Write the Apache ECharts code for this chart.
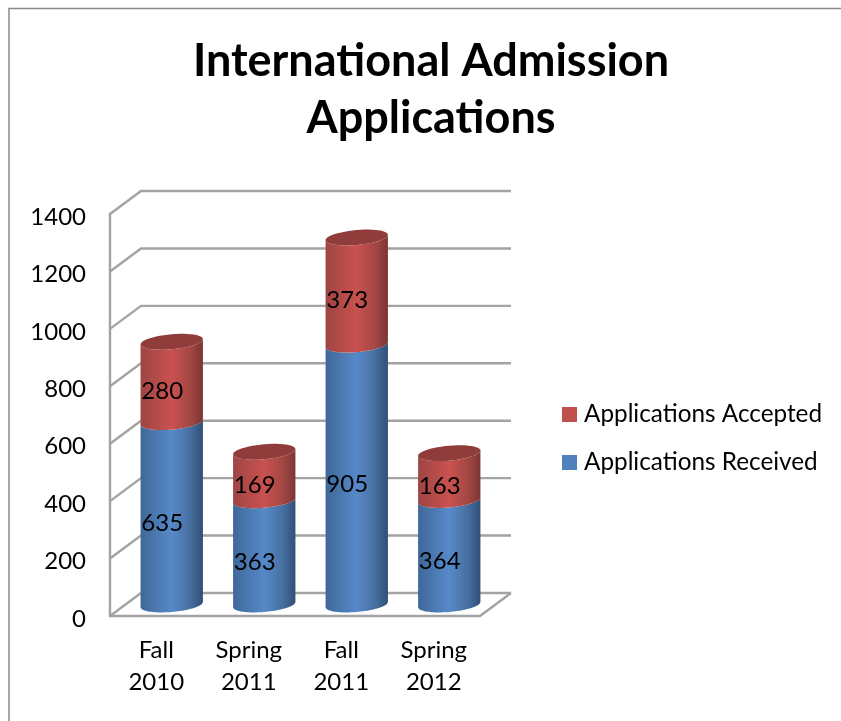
<!DOCTYPE html>
<html>
<head>
<meta charset="utf-8">
<script src="https://cdn.jsdelivr.net/npm/echarts@6/dist/echarts.min.js"></script>
<style>html,body{margin:0;padding:0;background:#fff}#c{width:841px;height:721px}</style>
</head>
<body>
<div id="c"></div>
<script>
const categories = ['Fall\n2010', 'Spring\n2011', 'Fall\n2011', 'Spring\n2012'];
const received = [635, 363, 905, 364];
const accepted = [280, 169, 373, 163];
const yTicks = [0, 200, 400, 600, 800, 1000, 1200, 1400];
const titleText = 'International Admission\nApplications';

const FONT = 'Lato, "Open Sans", sans-serif';
const GRID_COLOR = '#a3a3a3';
const DEPTH_X = 31, DEPTH_Y = 23;

function ellipsePoints(cx, cy, a, tilt, b, from, to) {
  const pts = [];
  const n = 48;
  for (let i = 0; i <= n; i++) {
    const t = from + (to - from) * i / n;
    pts.push([cx + a * Math.cos(t), cy - tilt * Math.cos(t) + b * Math.sin(t)]);
  }
  return pts;
}

function cylinderRenderer(stops, capColor) {
  return function (params, api) {
    const cat = api.value(0), base = api.value(1), top = api.value(2);
    const p0 = api.coord([cat, base]);
    const p1 = api.coord([cat, top]);
    const band = api.size([1, 0])[0];
    const a = band * 0.337;
    const tilt = a * 0.085, b = a * 0.24;
    const cx = p0[0] + DEPTH_X / 2;
    const y0 = p0[1] - DEPTH_Y / 2;
    const y1 = p1[1] - DEPTH_Y / 2;
    const lower = ellipsePoints(cx, y0, a, tilt, b, Math.PI, 0);
    const upper = ellipsePoints(cx, y1, a, tilt, b, 0, Math.PI);
    const children = [{
      type: 'polygon',
      shape: { points: lower.concat(upper) },
      style: { fill: new echarts.graphic.LinearGradient(0, 0, 1, 0, stops) }
    }];
    if (capColor) {
      children.push({
        type: 'polygon',
        shape: { points: ellipsePoints(cx, y1, a, tilt, b, 0, Math.PI * 2) },
        style: { fill: capColor }
      });
    }
    children.push({
      type: 'text',
      z2: 10,
      style: {
        text: String(top - base),
        x: p0[0] + 6,
        y: (p0[1] + p1[1]) / 2 - 2,
        textAlign: 'center',
        textVerticalAlign: 'middle',
        font: '24px ' + FONT,
        fill: '#000'
      }
    });
    return { type: 'group', children };
  };
}

function wallRenderer(params, api) {
  const v = api.value(0);
  const sys = params.coordSys;
  const y = api.coord([0, v])[1];
  const x0 = sys.x, x1 = sys.x + sys.width;
  const children = [{
    type: 'polyline',
    shape: { points: [[x0, y], [x0 + DEPTH_X, y - DEPTH_Y], [x1 + DEPTH_X, y - DEPTH_Y]] },
    style: { fill: 'none', stroke: GRID_COLOR, lineWidth: 2.4 }
  }];
  if (v === 0) {
    children.push({
      type: 'line',
      shape: { x1: x1, y1: y, x2: x1 + DEPTH_X, y2: y - DEPTH_Y },
      style: { stroke: GRID_COLOR, lineWidth: 2.4 }
    });
  }
  return { type: 'group', children };
}

const chart = echarts.init(document.getElementById('c'), null, { renderer: 'canvas', width: 841, height: 721 });
chart.setOption({
  animation: false,
  backgroundColor: '#fff',
  title: {
    text: titleText,
    left: 426,
    top: 28,
    textAlign: 'center',
    textStyle: { fontFamily: FONT, fontWeight: 'bold', fontSize: 45, lineHeight: 57, color: '#000' }
  },
  legend: {
    orient: 'vertical',
    left: 562,
    top: 402,
    padding: 0,
    itemWidth: 15,
    itemHeight: 15,
    itemGap: 23,
    icon: 'rect',
    data: ['Applications Accepted', 'Applications Received'],
    textStyle: { fontFamily: FONT, fontSize: 24.3, color: '#000', padding: [0, 0, 0, 2], lineHeight: 25 }
  },
  grid: { left: 110, right: 361, top: 214, bottom: 105 },
  xAxis: {
    type: 'category',
    data: categories,
    axisLine: { show: true, lineStyle: { color: GRID_COLOR, width: 2.4 } },
    axisTick: { show: false },
    axisLabel: { interval: 0, margin: 18, fontFamily: FONT, fontSize: 24, lineHeight: 32, color: '#000' }
  },
  yAxis: {
    type: 'value',
    min: 0,
    max: 1400,
    interval: 200,
    axisLine: { show: true, lineStyle: { color: GRID_COLOR, width: 2.4 } },
    axisTick: { show: false },
    splitLine: { show: false },
    axisLabel: {
      margin: 24, fontFamily: FONT, fontSize: 24, color: '#000',
      verticalAlign: 'top',
      lineHeight: 6,
      formatter: v => String(v)
    }
  },
  graphic: [{
    type: 'rect',
    shape: { x: 9, y: 8.5, width: 900, height: 800 },
    style: { fill: 'none', stroke: '#8a8a8a', lineWidth: 1.5 },
    silent: true,
    z: -1
  }],
  series: [
    {
      type: 'custom',
      name: 'walls',
      silent: true,
      z: 1,
      renderItem: wallRenderer,
      encode: { y: 0 },
      data: yTicks.map(v => [v])
    },
    {
      type: 'custom',
      name: 'Applications Received',
      z: 3,
      itemStyle: { color: '#4f81bd' },
      encode: { x: 0, y: [1, 2] },
      renderItem: cylinderRenderer([
        { offset: 0, color: '#3f6899' },
        { offset: 0.5, color: '#5789c9' },
        { offset: 0.8, color: '#466f9f' },
        { offset: 1, color: '#2f4f77' }
      ], null),
      data: received.map((v, i) => [i, 0, v])
    },
    {
      type: 'custom',
      name: 'Applications Accepted',
      z: 4,
      itemStyle: { color: '#c0504d' },
      encode: { x: 0, y: [1, 2] },
      renderItem: cylinderRenderer([
        { offset: 0, color: '#9e4543' },
        { offset: 0.5, color: '#c9524f' },
        { offset: 0.8, color: '#a34744' },
        { offset: 1, color: '#7c3533' }
      ], '#8f3c3a'),
      data: accepted.map((v, i) => [i, received[i], received[i] + v])
    }
  ]
});
</script>
</body>
</html>
